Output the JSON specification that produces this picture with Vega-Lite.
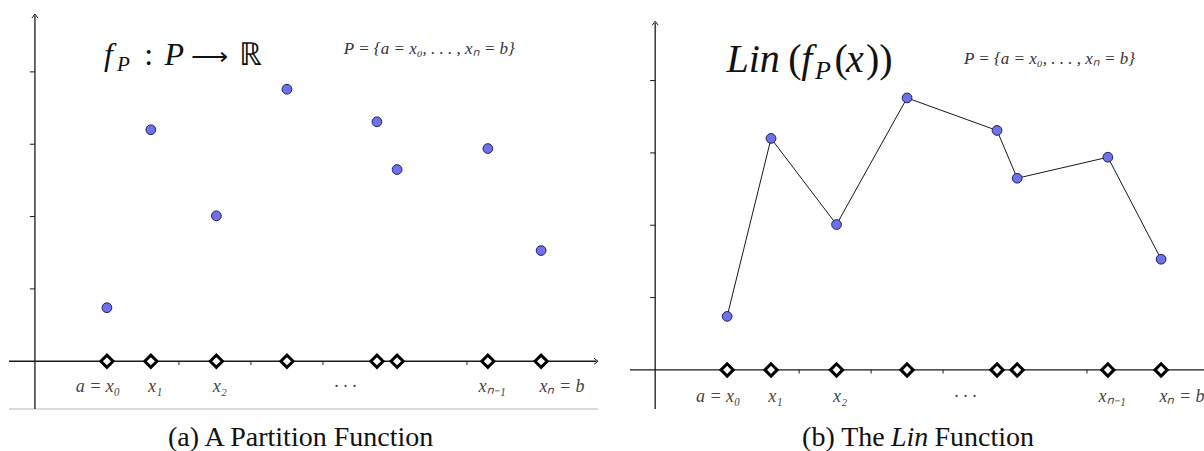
{
  "$schema": "https://vega.github.io/schema/vega-lite/v6.json",
  "padding": {"left": 8, "top": 12, "right": 0, "bottom": 0},
  "spacing": 32,
  "bounds": "flush",
  "config": {
    "view": {"stroke": null},
    "text": {"font": "Liberation Serif", "color": "#111"}
  },
  "datasets": {
    "points": [
      {"x": 1.0, "y": 0.74},
      {"x": 1.61, "y": 3.2},
      {"x": 2.52, "y": 2.01},
      {"x": 3.5, "y": 3.76},
      {"x": 4.75, "y": 3.31},
      {"x": 5.03, "y": 2.65},
      {"x": 6.29, "y": 2.94},
      {"x": 7.03, "y": 1.53}
    ],
    "xticks": [{"v": 1}, {"v": 2}, {"v": 3}, {"v": 4}, {"v": 5}, {"v": 6}, {"v": 7}],
    "yticks": [{"v": 1}, {"v": 2}, {"v": 3}, {"v": 4}],
    "labels": [
      {"label": "a = x₀", "lx": 0.875},
      {"label": "x₁", "lx": 1.67},
      {"label": "x₂", "lx": 2.57},
      {"label": "· · ·", "lx": 4.31},
      {"label": "xₙ₋₁", "lx": 6.35},
      {"label": "xₙ = b", "lx": 7.32}
    ]
  },
  "hconcat": [
    {
      "width": 589,
      "height": 395,
      "layer": [
        {
          "data": {"values": [{}]},
          "mark": {"type": "rule", "stroke": "#1a1a1a", "strokeWidth": 1.3},
          "encoding": {
            "x": {"datum": -0.36, "type": "quantitative", "scale": {"domain": [-0.36, 7.82], "nice": false}, "axis": null},
            "x2": {"datum": 7.8},
            "y": {"datum": 0, "type": "quantitative", "scale": {"domain": [-0.66, 4.8], "nice": false}, "axis": null}
          }
        },
        {
          "data": {"values": [{}]},
          "mark": {"type": "rule", "stroke": "#cfcfcf", "strokeWidth": 1.5},
          "encoding": {
            "x": {"datum": -0.36, "type": "quantitative"},
            "x2": {"datum": 7.82},
            "y": {"datum": -0.66, "type": "quantitative"}
          }
        },
        {
          "data": {"values": [{}]},
          "mark": {"type": "rule", "stroke": "#1a1a1a", "strokeWidth": 1.3},
          "encoding": {
            "x": {"datum": 0, "type": "quantitative"},
            "y": {"datum": -0.66, "type": "quantitative"},
            "y2": {"datum": 4.78}
          }
        },
        {
          "data": {"values": [{}]},
          "mark": {"type": "point", "shape": "M-1,-0.75L0,0L-1,0.75", "filled": false, "stroke": "#1a1a1a", "strokeWidth": 1, "size": 64, "opacity": 1},
          "encoding": {"x": {"datum": 7.82, "type": "quantitative"}, "y": {"datum": 0, "type": "quantitative"}}
        },
        {
          "data": {"values": [{}]},
          "mark": {"type": "point", "shape": "M-0.75,1L0,0L0.75,1", "filled": false, "stroke": "#1a1a1a", "strokeWidth": 1, "size": 64, "opacity": 1},
          "encoding": {"x": {"datum": 0, "type": "quantitative"}, "y": {"datum": 4.8, "type": "quantitative"}}
        },
        {
          "data": {"name": "yticks"},
          "mark": {"type": "rule", "stroke": "#1a1a1a", "strokeWidth": 1},
          "encoding": {
            "x": {"datum": -0.07, "type": "quantitative"},
            "x2": {"datum": 0},
            "y": {"field": "v", "type": "quantitative"}
          }
        },
        {
          "data": {"name": "xticks"},
          "mark": {"type": "rule", "stroke": "#1a1a1a", "strokeWidth": 1},
          "encoding": {
            "x": {"field": "v", "type": "quantitative"},
            "y": {"datum": -0.05, "type": "quantitative"},
            "y2": {"datum": 0}
          }
        },
        {
          "data": {"name": "points"},
          "mark": {"type": "point", "shape": "diamond", "filled": true, "fill": "white", "stroke": "black", "strokeWidth": 3, "size": 150, "opacity": 1},
          "encoding": {"x": {"field": "x", "type": "quantitative"}, "y": {"datum": 0, "type": "quantitative"}}
        },
        {
          "data": {"name": "points"},
          "mark": {"type": "point", "shape": "circle", "filled": true, "fill": "#6e72ea", "stroke": "#1c1f66", "strokeWidth": 1, "size": 95, "opacity": 1},
          "encoding": {"x": {"field": "x", "type": "quantitative"}, "y": {"field": "y", "type": "quantitative"}}
        },
        {
          "data": {"name": "labels"},
          "mark": {"type": "text", "fontStyle": "italic", "fontSize": 18, "color": "#444"},
          "encoding": {
            "x": {"field": "lx", "type": "quantitative"},
            "y": {"datum": -0.36, "type": "quantitative"},
            "text": {"field": "label"}
          }
        },
        {
          "data": {"values": [{}]},
          "mark": {"type": "text", "text": "f", "fontStyle": "italic", "fontSize": 32, "align": "left", "baseline": "alphabetic"},
          "encoding": {"x": {"datum": 0.96, "type": "quantitative"}, "y": {"datum": 4.1, "type": "quantitative"}}
        },
        {
          "data": {"values": [{}]},
          "mark": {"type": "text", "text": "P", "fontStyle": "italic", "fontSize": 21, "align": "left", "baseline": "alphabetic", "dy": 6},
          "encoding": {"x": {"datum": 1.14, "type": "quantitative"}, "y": {"datum": 4.1, "type": "quantitative"}}
        },
        {
          "data": {"values": [{}]},
          "mark": {"type": "text", "text": ":", "fontSize": 32, "align": "left", "baseline": "alphabetic"},
          "encoding": {"x": {"datum": 1.52, "type": "quantitative"}, "y": {"datum": 4.1, "type": "quantitative"}}
        },
        {
          "data": {"values": [{}]},
          "mark": {"type": "text", "text": "P", "fontStyle": "italic", "fontSize": 32, "align": "left", "baseline": "alphabetic"},
          "encoding": {"x": {"datum": 1.8, "type": "quantitative"}, "y": {"datum": 4.1, "type": "quantitative"}}
        },
        {
          "data": {"values": [{}]},
          "mark": {"type": "text", "text": "⟶", "fontSize": 26, "align": "left", "baseline": "alphabetic"},
          "encoding": {"x": {"datum": 2.17, "type": "quantitative"}, "y": {"datum": 4.1, "type": "quantitative"}}
        },
        {
          "data": {"values": [{}]},
          "mark": {"type": "text", "text": "ℝ", "fontSize": 32, "align": "left", "baseline": "alphabetic"},
          "encoding": {"x": {"datum": 2.83, "type": "quantitative"}, "y": {"datum": 4.1, "type": "quantitative"}}
        },
        {
          "data": {"values": [{}]},
          "mark": {"type": "text", "text": "P = {a = x₀, . . . , xₙ = b}", "fontStyle": "italic", "fontSize": 17, "align": "left", "baseline": "alphabetic", "color": "#333"},
          "encoding": {"x": {"datum": 4.29, "type": "quantitative"}, "y": {"datum": 4.25, "type": "quantitative"}}
        },
        {
          "data": {"values": [{}]},
          "mark": {"type": "text", "text": "(a) A Partition Function", "fontSize": 28},
          "encoding": {"x": {"datum": 3.69, "type": "quantitative"}, "y": {"datum": -1.06, "type": "quantitative"}}
        }
      ]
    },
    {
      "width": 575,
      "height": 395,
      "layer": [
        {
          "data": {"values": [{}]},
          "mark": {"type": "rule", "stroke": "#1a1a1a", "strokeWidth": 1.3},
          "encoding": {
            "x": {"datum": -0.35, "type": "quantitative", "scale": {"domain": [-0.35, 7.64], "nice": false}, "axis": null},
            "x2": {"datum": 7.64},
            "y": {"datum": 0, "type": "quantitative", "scale": {"domain": [-0.54, 4.92], "nice": false}, "axis": null}
          }
        },
        {
          "data": {"values": [{}]},
          "mark": {"type": "rule", "stroke": "#1a1a1a", "strokeWidth": 1.3},
          "encoding": {
            "x": {"datum": 0, "type": "quantitative"},
            "y": {"datum": -0.54, "type": "quantitative"},
            "y2": {"datum": 4.8}
          }
        },
        {
          "data": {"values": [{}]},
          "mark": {"type": "point", "shape": "M-0.75,1L0,0L0.75,1", "filled": false, "stroke": "#1a1a1a", "strokeWidth": 1, "size": 64, "opacity": 1},
          "encoding": {"x": {"datum": 0, "type": "quantitative"}, "y": {"datum": 4.82, "type": "quantitative"}}
        },
        {
          "data": {"name": "yticks"},
          "mark": {"type": "rule", "stroke": "#1a1a1a", "strokeWidth": 1},
          "encoding": {
            "x": {"datum": -0.07, "type": "quantitative"},
            "x2": {"datum": 0},
            "y": {"field": "v", "type": "quantitative"}
          }
        },
        {
          "data": {"name": "xticks"},
          "mark": {"type": "rule", "stroke": "#1a1a1a", "strokeWidth": 1},
          "encoding": {
            "x": {"field": "v", "type": "quantitative"},
            "y": {"datum": -0.05, "type": "quantitative"},
            "y2": {"datum": 0}
          }
        },
        {
          "data": {"name": "points"},
          "mark": {"type": "line", "stroke": "#1a1a1a", "strokeWidth": 1},
          "encoding": {"x": {"field": "x", "type": "quantitative"}, "y": {"field": "y", "type": "quantitative"}}
        },
        {
          "data": {"name": "points"},
          "mark": {"type": "point", "shape": "diamond", "filled": true, "fill": "white", "stroke": "black", "strokeWidth": 3, "size": 150, "opacity": 1},
          "encoding": {"x": {"field": "x", "type": "quantitative"}, "y": {"datum": 0, "type": "quantitative"}}
        },
        {
          "data": {"name": "points"},
          "mark": {"type": "point", "shape": "circle", "filled": true, "fill": "#6e72ea", "stroke": "#1c1f66", "strokeWidth": 1, "size": 95, "opacity": 1},
          "encoding": {"x": {"field": "x", "type": "quantitative"}, "y": {"field": "y", "type": "quantitative"}}
        },
        {
          "data": {"name": "labels"},
          "mark": {"type": "text", "fontStyle": "italic", "fontSize": 18, "color": "#444"},
          "encoding": {
            "x": {"field": "lx", "type": "quantitative"},
            "y": {"datum": -0.38, "type": "quantitative"},
            "text": {"field": "label"}
          }
        },
        {
          "data": {"values": [{}]},
          "mark": {"type": "text", "text": "Lin", "fontStyle": "italic", "fontSize": 40, "align": "left", "baseline": "alphabetic"},
          "encoding": {"x": {"datum": 0.99, "type": "quantitative"}, "y": {"datum": 4.12, "type": "quantitative"}}
        },
        {
          "data": {"values": [{}]},
          "mark": {"type": "text", "text": "(", "fontSize": 40, "align": "left", "baseline": "alphabetic"},
          "encoding": {"x": {"datum": 1.85, "type": "quantitative"}, "y": {"datum": 4.12, "type": "quantitative"}}
        },
        {
          "data": {"values": [{}]},
          "mark": {"type": "text", "text": "f", "fontStyle": "italic", "fontSize": 40, "align": "left", "baseline": "alphabetic"},
          "encoding": {"x": {"datum": 2.03, "type": "quantitative"}, "y": {"datum": 4.12, "type": "quantitative"}}
        },
        {
          "data": {"values": [{}]},
          "mark": {"type": "text", "text": "P", "fontStyle": "italic", "fontSize": 26, "align": "left", "baseline": "alphabetic", "dy": 7},
          "encoding": {"x": {"datum": 2.22, "type": "quantitative"}, "y": {"datum": 4.12, "type": "quantitative"}}
        },
        {
          "data": {"values": [{}]},
          "mark": {"type": "text", "text": "(", "fontSize": 40, "align": "left", "baseline": "alphabetic"},
          "encoding": {"x": {"datum": 2.49, "type": "quantitative"}, "y": {"datum": 4.12, "type": "quantitative"}}
        },
        {
          "data": {"values": [{}]},
          "mark": {"type": "text", "text": "x", "fontStyle": "italic", "fontSize": 40, "align": "left", "baseline": "alphabetic"},
          "encoding": {"x": {"datum": 2.65, "type": "quantitative"}, "y": {"datum": 4.12, "type": "quantitative"}}
        },
        {
          "data": {"values": [{}]},
          "mark": {"type": "text", "text": "))", "fontSize": 40, "align": "left", "baseline": "alphabetic"},
          "encoding": {"x": {"datum": 2.93, "type": "quantitative"}, "y": {"datum": 4.12, "type": "quantitative"}}
        },
        {
          "data": {"values": [{}]},
          "mark": {"type": "text", "text": "P = {a = x₀, . . . , xₙ = b}", "fontStyle": "italic", "fontSize": 17, "align": "left", "baseline": "alphabetic", "color": "#333"},
          "encoding": {"x": {"datum": 4.29, "type": "quantitative"}, "y": {"datum": 4.23, "type": "quantitative"}}
        },
        {
          "data": {"values": [{}]},
          "mark": {"type": "text", "text": "(b) The", "fontSize": 28, "align": "right"},
          "encoding": {"x": {"datum": 3.19, "type": "quantitative"}, "y": {"datum": -0.945, "type": "quantitative"}}
        },
        {
          "data": {"values": [{}]},
          "mark": {"type": "text", "text": "Lin", "fontSize": 28, "fontStyle": "italic"},
          "encoding": {"x": {"datum": 3.535, "type": "quantitative"}, "y": {"datum": -0.945, "type": "quantitative"}}
        },
        {
          "data": {"values": [{}]},
          "mark": {"type": "text", "text": "Function", "fontSize": 28, "align": "left"},
          "encoding": {"x": {"datum": 3.88, "type": "quantitative"}, "y": {"datum": -0.945, "type": "quantitative"}}
        }
      ]
    }
  ]
}
